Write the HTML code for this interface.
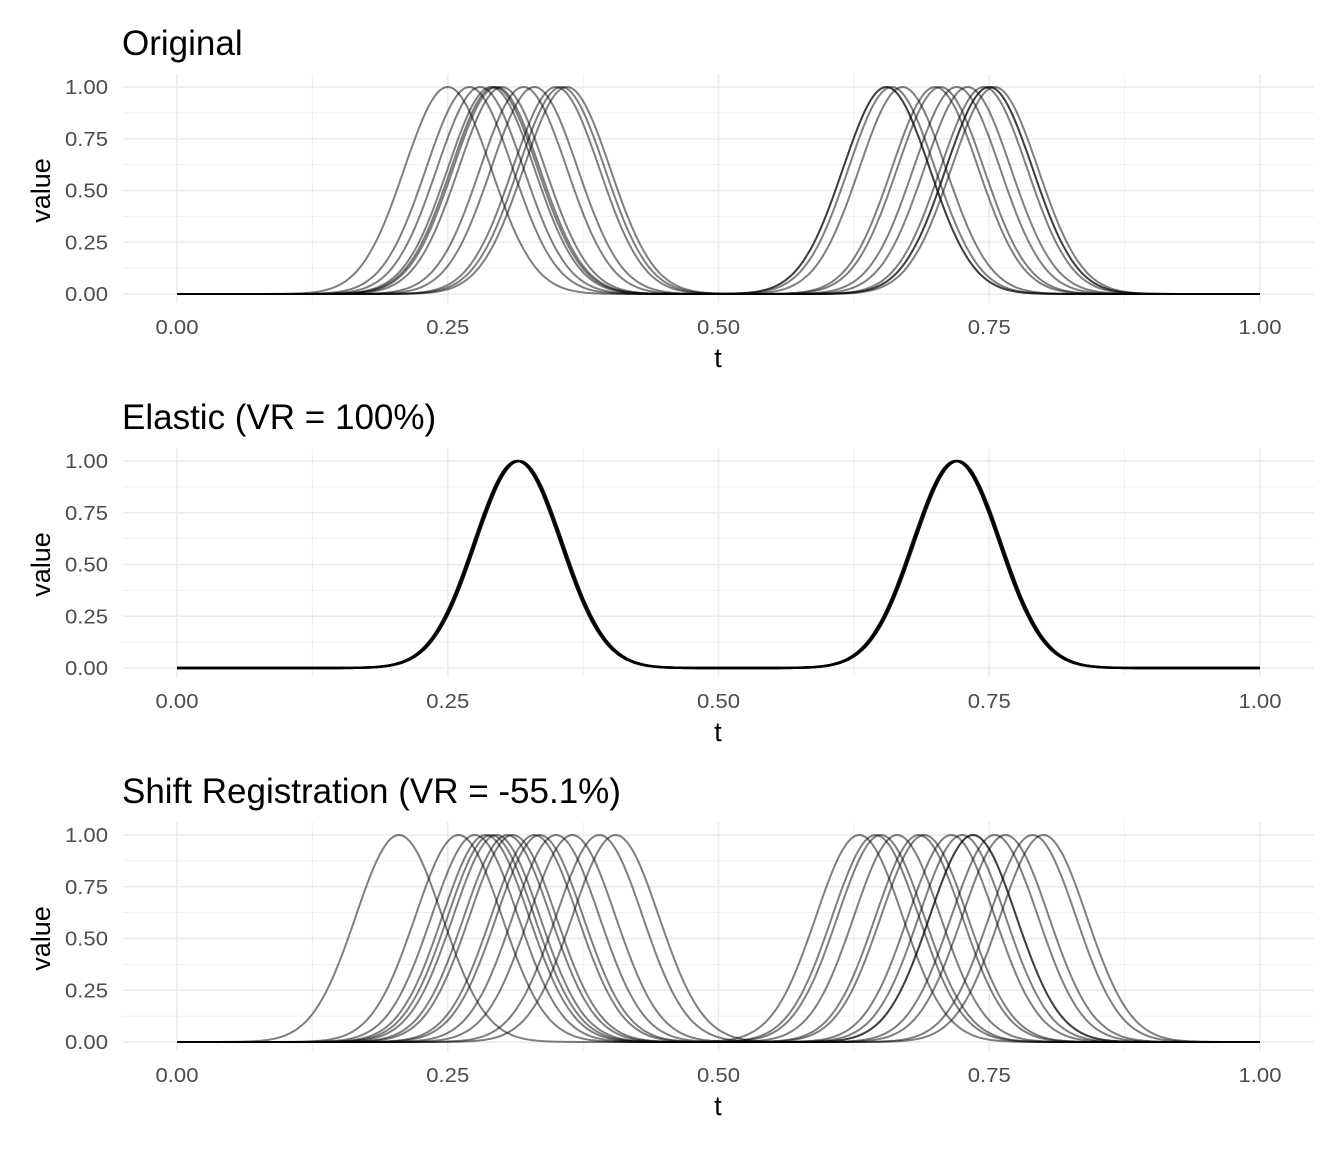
<!DOCTYPE html>
<html><head><meta charset="utf-8"><style>
body{margin:0;background:#fff;}
svg{display:block;font-family:"Liberation Sans",sans-serif;}
</style></head><body>
<svg id="s" width="1344" height="1152" viewBox="0 0 1344 1152" xmlns="http://www.w3.org/2000/svg"></svg>
<script>
const S=document.getElementById('s');
let out='';
const X=t=>177+t*1083;
const panels=[
 {title:'Original',top:87,p:[[0.25,0.655],[0.27,0.66],[0.28,0.67],[0.29,0.70],[0.295,0.705],[0.30,0.72],[0.32,0.73],[0.33,0.745],[0.35,0.75],[0.355,0.755],[0.36,0.655],[0.293,0.75]],op:0.5,w:2},
 {title:'Elastic (VR = 100%)',top:461,p:[[0.315,0.72],[0.316,0.721],[0.314,0.719]],op:0.9,w:2.4},
 {title:'Shift Registration (VR = -55.1%)',top:835,p:[[0.205,0.63],[0.26,0.645],[0.275,0.65],[0.285,0.665],[0.29,0.685],[0.295,0.69],[0.305,0.715],[0.31,0.725],[0.33,0.735],[0.335,0.755],[0.35,0.765],[0.365,0.79],[0.39,0.80],[0.405,0.735]],op:0.5,w:2}
];
const sd=0.04;
panels.forEach(P=>{
 const y0=P.top+207, Y=v=>y0-v*207;
 out+=`<text x="122" y="${P.top-32}" font-size="35" fill="#000">${P.title}</text>`;
 for(let i=0;i<=8;i++){const t=i/8;out+=`<line x1="${X(t)}" x2="${X(t)}" y1="${P.top-13}" y2="${y0+9}" stroke="#ebebeb" stroke-width="${i%2?0.8:1.6}"/>`;}
 for(let i=0;i<=8;i++){const v=i/8;out+=`<line x1="123" x2="1314" y1="${Y(v)}" y2="${Y(v)}" stroke="#ebebeb" stroke-width="${i%2?0.8:1.6}"/>`;}
 ['0.00','0.25','0.50','0.75','1.00'].forEach((l,i)=>{
  out+=`<text x="108" y="${Y(i/4)+7}" font-size="20" fill="#4d4d4d" text-anchor="end" textLength="43" lengthAdjust="spacingAndGlyphs">${l}</text>`;
  out+=`<text x="${X(i/4)}" y="${y0+40}" font-size="20" fill="#4d4d4d" text-anchor="middle" textLength="43" lengthAdjust="spacingAndGlyphs">${l}</text>`;
 });
 out+=`<text x="718" y="${y0+73}" font-size="27" text-anchor="middle">t</text>`;
 out+=`<text transform="translate(50,${Y(0.5)}) rotate(-90)" font-size="27" text-anchor="middle">value</text>`;
 P.p.forEach(([a,b])=>{
  let d='';
  for(let k=0;k<=400;k++){const t=k/400;const v=Math.exp(-((t-a)**2)/(2*sd*sd))+Math.exp(-((t-b)**2)/(2*sd*sd));d+=(k?'L':'M')+X(t).toFixed(1)+','+Y(v).toFixed(1);}
  out+=`<path d="${d}" fill="none" stroke="#000" stroke-opacity="${P.op}" stroke-width="${P.w}"/>`;
 });
});
S.innerHTML=out;
</script>
</body></html>
